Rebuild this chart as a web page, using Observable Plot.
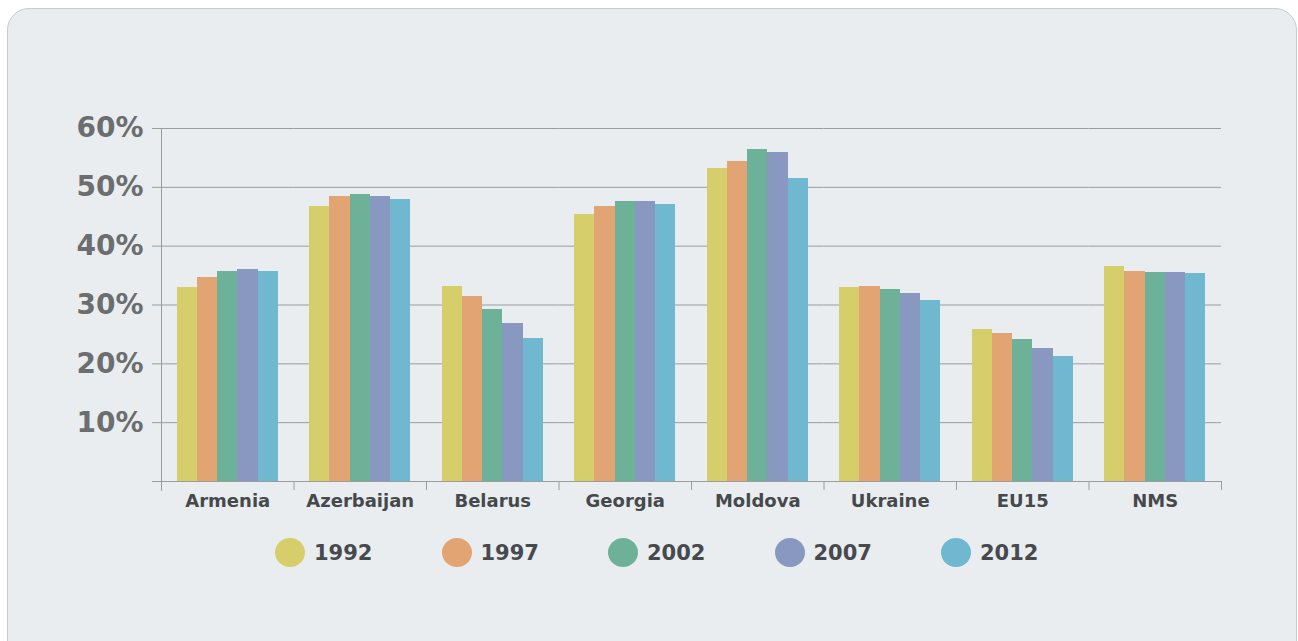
<!DOCTYPE html>
<html><head><meta charset="utf-8">
<script src="https://cdn.jsdelivr.net/npm/d3@7"></script>
<script src="https://cdn.jsdelivr.net/npm/@observablehq/plot@0.6"></script>
<style>
html,body{margin:0;padding:0;background:#fff;width:1298px;height:641px;overflow:hidden;font-family:"DejaVu Sans",sans-serif;}
#panel{position:absolute;left:7px;top:8px;width:1288px;height:680px;background:#e9edf0;border:1px solid #c3ccd3;border-radius:22px;}
#chart{position:absolute;left:0;top:100px;}
#legend{position:absolute;left:275px;top:538px;display:flex;}
.item{width:166.5px;display:flex;align-items:center;}
.dot{width:30px;height:29px;border-radius:50%;margin-right:9px;}
.lab{font-weight:bold;font-size:21px;color:#464a4d;}
</style></head><body>
<div id="panel"></div><div id="chart"></div><div id="legend"></div>
<script>
const countries = ["Armenia","Azerbaijan","Belarus","Georgia","Moldova","Ukraine","EU15","NMS"];
const years = ["1992","1997","2002","2007","2012"];
const v1992 = [33.0, 46.7, 33.1, 45.4, 53.2, 33.0, 25.8, 36.5];
const v1997 = [34.7, 48.4, 31.4, 46.7, 54.4, 33.1, 25.2, 35.7];
const v2002 = [35.7, 48.8, 29.2, 47.6, 56.4, 32.6, 24.1, 35.6];
const v2007 = [36.0, 48.4, 26.9, 47.6, 55.9, 32.0, 22.6, 35.6];
const v2012 = [35.7, 47.9, 24.3, 47.1, 51.5, 30.8, 21.2, 35.3];
const colors = ["#d6ce6a","#e2a472","#6db199","#8898c0","#6fb8d0"];
const yTicks = [0,10,20,30,40,50,60];

const series = [v1992, v1997, v2002, v2007, v2012];
const data = countries.flatMap((c,i)=>years.map((y,j)=>({country:c, year:y, value:series[j][i]})));

const W=1298, ML=161, MR=77, H=420, MT=28, MB=39;
const step = (W-ML-MR)/countries.length;
const grey = "#9a9c9e";

const chart = Plot.plot({
  width: W, height: H, marginLeft: ML, marginRight: MR, marginTop: MT, marginBottom: MB,
  style: {background:"transparent", fontFamily:"DejaVu Sans", overflow:"visible"},
  fx: {domain: countries, padding: 0, round: false, label: null},
  x: {domain: years, paddingInner: 0, paddingOuter: 0.78, round: false, axis: null},
  y: {domain: [0,60], label: null},
  color: {domain: years, range: colors},
  marks: [
    Plot.gridY(yTicks, {stroke: grey, strokeOpacity: 1}),
    Plot.barY(data, {fx:"country", x:"year", y:"value", fill:"year", shapeRendering:"crispEdges"}),
    Plot.axisY(yTicks, {tickSize:9, tickPadding:9, stroke:grey, fill:"#6b6d6f", fontSize:28, fontWeight:"bold",
      tickFormat: d => d === 0 ? "" : d + "%", label: null}),
    Plot.axisFx({anchor:"bottom", tickSize:0, tickPadding:13, fontSize:18, fontWeight:"bold", fill:"#46494c", label:null}),
    Plot.axisFx({anchor:"bottom", tickSize:9, tickFormat: () => "", dx: step/2, stroke: grey, label:null}),
    Plot.frame({anchor:"left", facetAnchor:"left", insetBottom:-9, stroke: grey})
  ]
});
document.getElementById("chart").appendChild(chart);

const leg = document.getElementById("legend");
years.forEach((y,i)=>{
  const it = document.createElement("div"); it.className="item";
  const d = document.createElement("div"); d.className="dot"; d.style.background = colors[i];
  const t = document.createElement("span"); t.className="lab"; t.textContent = y;
  it.appendChild(d); it.appendChild(t); leg.appendChild(it);
});
</script>
</body></html>
